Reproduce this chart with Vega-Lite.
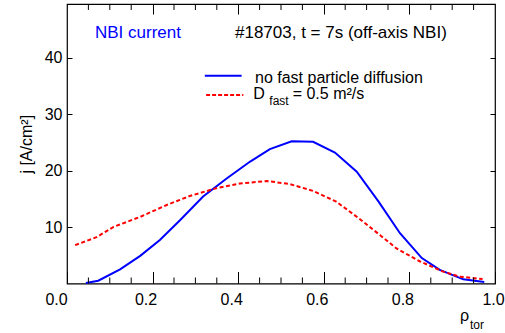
{
  "$schema": "https://vega.github.io/schema/vega-lite/v6.json",
  "width": 428,
  "height": 279.5,
  "autosize": {"type": "none"},
  "padding": {"left": 67, "top": 4, "right": 10, "bottom": 50},
  "background": "white",
  "config": {
    "font": "Liberation Sans",
    "view": {"stroke": "black", "strokeWidth": 1.2},
    "axis": {"domain": false, "grid": false, "ticks": true, "labelFont": "Liberation Sans", "labelFontSize": 16, "labelColor": "black", "tickColor": "black", "tickWidth": 1, "titleFont": "Liberation Sans", "titleFontWeight": "normal", "titleColor": "black"}
  },
  "datasets": {
    "nodiff": [
      {"rho": 0.044, "j": 0.1}, {"rho": 0.073, "j": 0.5}, {"rho": 0.124, "j": 2.5}, {"rho": 0.171, "j": 4.9},
      {"rho": 0.217, "j": 7.7}, {"rho": 0.264, "j": 11.2}, {"rho": 0.318, "j": 15.4}, {"rho": 0.373, "j": 18.6},
      {"rho": 0.428, "j": 21.6}, {"rho": 0.474, "j": 23.8}, {"rho": 0.525, "j": 25.2}, {"rho": 0.575, "j": 25.1},
      {"rho": 0.626, "j": 23.2}, {"rho": 0.677, "j": 19.8}, {"rho": 0.728, "j": 14.5}, {"rho": 0.778, "j": 8.9},
      {"rho": 0.829, "j": 4.5}, {"rho": 0.871, "j": 2.4}, {"rho": 0.926, "j": 0.74}, {"rho": 0.975, "j": 0.25}
    ],
    "diff": [
      {"rho": 0.019, "j": 6.8}, {"rho": 0.069, "j": 8.2}, {"rho": 0.108, "j": 10.0}, {"rho": 0.171, "j": 11.8},
      {"rho": 0.233, "j": 13.9}, {"rho": 0.287, "j": 15.5}, {"rho": 0.35, "j": 16.9}, {"rho": 0.404, "j": 17.7},
      {"rho": 0.467, "j": 18.15}, {"rho": 0.521, "j": 17.6}, {"rho": 0.575, "j": 16.4}, {"rho": 0.629, "j": 14.5},
      {"rho": 0.679, "j": 11.7}, {"rho": 0.731, "j": 8.6}, {"rho": 0.77, "j": 6.2}, {"rho": 0.825, "j": 3.9},
      {"rho": 0.879, "j": 2.1}, {"rho": 0.918, "j": 1.2}, {"rho": 0.971, "j": 0.8}
    ],
    "minorticks": [
      {"rho": 0.05, "j": 0, "j2": 1.06}, {"rho": 0.1, "j": 0, "j2": 1.06}, {"rho": 0.15, "j": 0, "j2": 1.06},
      {"rho": 0.25, "j": 0, "j2": 1.06}, {"rho": 0.3, "j": 0, "j2": 1.06}, {"rho": 0.35, "j": 0, "j2": 1.06},
      {"rho": 0.45, "j": 0, "j2": 1.06}, {"rho": 0.5, "j": 0, "j2": 1.06}, {"rho": 0.55, "j": 0, "j2": 1.06},
      {"rho": 0.65, "j": 0, "j2": 1.06}, {"rho": 0.7, "j": 0, "j2": 1.06}, {"rho": 0.75, "j": 0, "j2": 1.06},
      {"rho": 0.85, "j": 0, "j2": 1.06}, {"rho": 0.9, "j": 0, "j2": 1.06}, {"rho": 0.95, "j": 0, "j2": 1.06},
      {"rho": 0.05, "j": 49.5, "j2": 48.44}, {"rho": 0.1, "j": 49.5, "j2": 48.44}, {"rho": 0.15, "j": 49.5, "j2": 48.44},
      {"rho": 0.25, "j": 49.5, "j2": 48.44}, {"rho": 0.3, "j": 49.5, "j2": 48.44}, {"rho": 0.35, "j": 49.5, "j2": 48.44},
      {"rho": 0.45, "j": 49.5, "j2": 48.44}, {"rho": 0.5, "j": 49.5, "j2": 48.44}, {"rho": 0.55, "j": 49.5, "j2": 48.44},
      {"rho": 0.65, "j": 49.5, "j2": 48.44}, {"rho": 0.7, "j": 49.5, "j2": 48.44}, {"rho": 0.75, "j": 49.5, "j2": 48.44},
      {"rho": 0.85, "j": 49.5, "j2": 48.44}, {"rho": 0.9, "j": 49.5, "j2": 48.44}, {"rho": 0.95, "j": 49.5, "j2": 48.44}
    ]
  },
  "resolve": {"axis": {"x": "independent", "y": "independent"}},
  "layer": [
    {
      "data": {"name": "nodiff"},
      "mark": {"type": "line", "color": "#0000ff", "strokeWidth": 2},
      "encoding": {
        "x": {"field": "rho", "type": "quantitative", "scale": {"domain": [0, 1], "nice": false, "zero": false},
          "axis": {"orient": "bottom", "values": [0, 0.2, 0.4, 0.6, 0.8, 1.0], "format": ".1f", "tickSize": -12, "labelPadding": 20, "title": null,
            "labelFlush": false, "labelOverlap": false,
            "labelOffset": {"condition": [{"test": "datum.value == 0", "value": -11}, {"test": "datum.value == 1", "value": -2}], "value": -7}}},
        "y": {"field": "j", "type": "quantitative", "scale": {"domain": [0, 49.5], "nice": false, "zero": false},
          "axis": {"orient": "left", "values": [10, 20, 30, 40], "tickSize": -5, "labelPadding": 10, "title": "j [A/cm²]", "titleFontSize": 16, "titlePadding": 10}}
      }
    },
    {
      "data": {"name": "diff"},
      "mark": {"type": "line", "color": "#ff0000", "strokeWidth": 2, "strokeDash": [4, 2.5]},
      "encoding": {
        "x": {"field": "rho", "type": "quantitative", "scale": {"domain": [0, 1], "nice": false, "zero": false},
          "axis": {"orient": "top", "values": [0.2, 0.4, 0.6, 0.8], "tickSize": -10, "labels": false, "title": null}},
        "y": {"field": "j", "type": "quantitative", "scale": {"domain": [0, 49.5], "nice": false, "zero": false},
          "axis": {"orient": "right", "values": [10, 20, 30, 40], "tickSize": -5, "labels": false, "title": null}}
      }
    },
    {
      "data": {"name": "minorticks"},
      "mark": {"type": "rule", "color": "black", "strokeWidth": 1},
      "encoding": {
        "x": {"field": "rho", "type": "quantitative", "scale": {"domain": [0, 1], "nice": false, "zero": false}, "axis": null},
        "y": {"field": "j", "type": "quantitative", "scale": {"domain": [0, 49.5], "nice": false, "zero": false}, "axis": null},
        "y2": {"field": "j2"}
      }
    },
    {
      "data": {"values": [{"rho": 0.322, "rho2": 0.408, "j": 36.8}]},
      "mark": {"type": "rule", "color": "#0000ff", "strokeWidth": 2},
      "encoding": {
        "x": {"field": "rho", "type": "quantitative", "scale": {"domain": [0, 1], "nice": false, "zero": false}, "axis": null},
        "x2": {"field": "rho2"},
        "y": {"field": "j", "type": "quantitative", "scale": {"domain": [0, 49.5], "nice": false, "zero": false}, "axis": null}
      }
    },
    {
      "data": {"values": [{"rho": 0.325, "rho2": 0.412, "j": 33.4}]},
      "mark": {"type": "rule", "color": "#ff0000", "strokeWidth": 2, "strokeDash": [4, 2]},
      "encoding": {
        "x": {"field": "rho", "type": "quantitative", "scale": {"domain": [0, 1], "nice": false, "zero": false}, "axis": null},
        "x2": {"field": "rho2"},
        "y": {"field": "j", "type": "quantitative", "scale": {"domain": [0, 49.5], "nice": false, "zero": false}, "axis": null}
      }
    },
    {
      "data": {"values": [{"rho": 0.0654, "j": 43.4, "label": "NBI current"}]},
      "mark": {"type": "text", "color": "#0000ff", "fontSize": 17, "align": "left", "baseline": "alphabetic"},
      "encoding": {
        "x": {"field": "rho", "type": "quantitative", "scale": {"domain": [0, 1], "nice": false, "zero": false}, "axis": null},
        "y": {"field": "j", "type": "quantitative", "scale": {"domain": [0, 49.5], "nice": false, "zero": false}, "axis": null},
        "text": {"field": "label"}
      }
    },
    {
      "data": {"values": [{"rho": 0.3925, "j": 43.4, "label": "#18703, t = 7s (off-axis NBI)"}]},
      "mark": {"type": "text", "color": "black", "fontSize": 17, "align": "left", "baseline": "alphabetic"},
      "encoding": {
        "x": {"field": "rho", "type": "quantitative", "scale": {"domain": [0, 1], "nice": false, "zero": false}, "axis": null},
        "y": {"field": "j", "type": "quantitative", "scale": {"domain": [0, 49.5], "nice": false, "zero": false}, "axis": null},
        "text": {"field": "label"}
      }
    },
    {
      "data": {"values": [
        {"rho": 0.4393, "j": 35.57, "label": "no fast particle diffusion"},
        {"rho": 0.4353, "j": 32.63, "label": "D"},
        {"rho": 0.5273, "j": 32.63, "label": "= 0.5 m²/s"},
        {"rho": 0.918, "j": -6.64, "label": "ρ"}
      ]},
      "mark": {"type": "text", "color": "black", "fontSize": 16, "align": "left", "baseline": "alphabetic"},
      "encoding": {
        "x": {"field": "rho", "type": "quantitative", "scale": {"domain": [0, 1], "nice": false, "zero": false}, "axis": null},
        "y": {"field": "j", "type": "quantitative", "scale": {"domain": [0, 49.5], "nice": false, "zero": false}, "axis": null},
        "text": {"field": "label"}
      }
    },
    {
      "data": {"values": [
        {"rho": 0.4727, "j": 31.62, "label": "fast"},
        {"rho": 0.9416, "j": -8.06, "label": "tor"}
      ]},
      "mark": {"type": "text", "color": "black", "fontSize": 12, "align": "left", "baseline": "alphabetic"},
      "encoding": {
        "x": {"field": "rho", "type": "quantitative", "scale": {"domain": [0, 1], "nice": false, "zero": false}, "axis": null},
        "y": {"field": "j", "type": "quantitative", "scale": {"domain": [0, 49.5], "nice": false, "zero": false}, "axis": null},
        "text": {"field": "label"}
      }
    }
  ]
}
